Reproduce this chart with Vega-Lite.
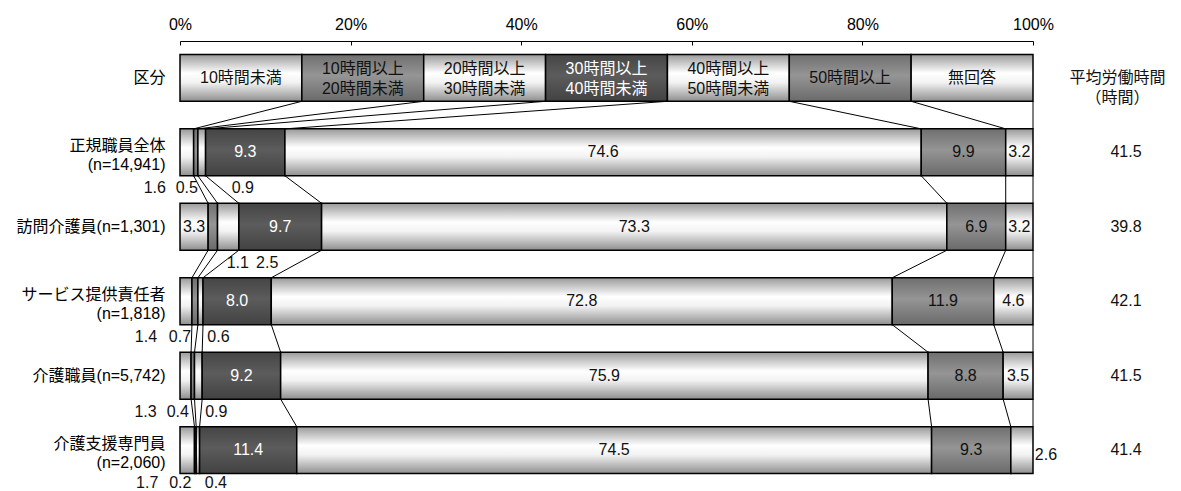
{
  "$schema": "https://vega.github.io/schema/vega-lite/v6.json",
  "width": 853,
  "height": 446,
  "autosize": {"type": "none"},
  "padding": {"left": 180, "top": 41, "right": 148, "bottom": 4},
  "background": "white",
  "config": {"view": {"stroke": null}, "font": "Liberation Sans, Noto Sans CJK JP"},
  "datasets": {
    "bars": [
      {"row": "区分", "r": 0, "s": 1, "seg": "10時間未満", "v": 1},
      {"row": "区分", "r": 0, "s": 2, "seg": "10時間以上\n20時間未満", "v": 1},
      {"row": "区分", "r": 0, "s": 3, "seg": "20時間以上\n30時間未満", "v": 1},
      {"row": "区分", "r": 0, "s": 4, "seg": "30時間以上\n40時間未満", "v": 1},
      {"row": "区分", "r": 0, "s": 5, "seg": "40時間以上\n50時間未満", "v": 1},
      {"row": "区分", "r": 0, "s": 6, "seg": "50時間以上", "v": 1},
      {"row": "区分", "r": 0, "s": 7, "seg": "無回答", "v": 1},
      {"row": "正規職員全体\n(n=14,941)", "r": 1, "s": 1, "seg": "10時間未満", "v": 1.6},
      {"row": "正規職員全体\n(n=14,941)", "r": 1, "s": 2, "seg": "10時間以上\n20時間未満", "v": 0.5},
      {"row": "正規職員全体\n(n=14,941)", "r": 1, "s": 3, "seg": "20時間以上\n30時間未満", "v": 0.9},
      {"row": "正規職員全体\n(n=14,941)", "r": 1, "s": 4, "seg": "30時間以上\n40時間未満", "v": 9.3},
      {"row": "正規職員全体\n(n=14,941)", "r": 1, "s": 5, "seg": "40時間以上\n50時間未満", "v": 74.6},
      {"row": "正規職員全体\n(n=14,941)", "r": 1, "s": 6, "seg": "50時間以上", "v": 9.9},
      {"row": "正規職員全体\n(n=14,941)", "r": 1, "s": 7, "seg": "無回答", "v": 3.2},
      {"row": "訪問介護員(n=1,301)", "r": 2, "s": 1, "seg": "10時間未満", "v": 3.3},
      {"row": "訪問介護員(n=1,301)", "r": 2, "s": 2, "seg": "10時間以上\n20時間未満", "v": 1.1},
      {"row": "訪問介護員(n=1,301)", "r": 2, "s": 3, "seg": "20時間以上\n30時間未満", "v": 2.5},
      {"row": "訪問介護員(n=1,301)", "r": 2, "s": 4, "seg": "30時間以上\n40時間未満", "v": 9.7},
      {"row": "訪問介護員(n=1,301)", "r": 2, "s": 5, "seg": "40時間以上\n50時間未満", "v": 73.3},
      {"row": "訪問介護員(n=1,301)", "r": 2, "s": 6, "seg": "50時間以上", "v": 6.9},
      {"row": "訪問介護員(n=1,301)", "r": 2, "s": 7, "seg": "無回答", "v": 3.2},
      {"row": "サービス提供責任者\n(n=1,818)", "r": 3, "s": 1, "seg": "10時間未満", "v": 1.4},
      {"row": "サービス提供責任者\n(n=1,818)", "r": 3, "s": 2, "seg": "10時間以上\n20時間未満", "v": 0.7},
      {"row": "サービス提供責任者\n(n=1,818)", "r": 3, "s": 3, "seg": "20時間以上\n30時間未満", "v": 0.6},
      {"row": "サービス提供責任者\n(n=1,818)", "r": 3, "s": 4, "seg": "30時間以上\n40時間未満", "v": 8.0},
      {"row": "サービス提供責任者\n(n=1,818)", "r": 3, "s": 5, "seg": "40時間以上\n50時間未満", "v": 72.8},
      {"row": "サービス提供責任者\n(n=1,818)", "r": 3, "s": 6, "seg": "50時間以上", "v": 11.9},
      {"row": "サービス提供責任者\n(n=1,818)", "r": 3, "s": 7, "seg": "無回答", "v": 4.6},
      {"row": "介護職員(n=5,742)", "r": 4, "s": 1, "seg": "10時間未満", "v": 1.3},
      {"row": "介護職員(n=5,742)", "r": 4, "s": 2, "seg": "10時間以上\n20時間未満", "v": 0.4},
      {"row": "介護職員(n=5,742)", "r": 4, "s": 3, "seg": "20時間以上\n30時間未満", "v": 0.9},
      {"row": "介護職員(n=5,742)", "r": 4, "s": 4, "seg": "30時間以上\n40時間未満", "v": 9.2},
      {"row": "介護職員(n=5,742)", "r": 4, "s": 5, "seg": "40時間以上\n50時間未満", "v": 75.9},
      {"row": "介護職員(n=5,742)", "r": 4, "s": 6, "seg": "50時間以上", "v": 8.8},
      {"row": "介護職員(n=5,742)", "r": 4, "s": 7, "seg": "無回答", "v": 3.5},
      {"row": "介護支援専門員\n(n=2,060)", "r": 5, "s": 1, "seg": "10時間未満", "v": 1.7},
      {"row": "介護支援専門員\n(n=2,060)", "r": 5, "s": 2, "seg": "10時間以上\n20時間未満", "v": 0.2},
      {"row": "介護支援専門員\n(n=2,060)", "r": 5, "s": 3, "seg": "20時間以上\n30時間未満", "v": 0.4},
      {"row": "介護支援専門員\n(n=2,060)", "r": 5, "s": 4, "seg": "30時間以上\n40時間未満", "v": 11.4},
      {"row": "介護支援専門員\n(n=2,060)", "r": 5, "s": 5, "seg": "40時間以上\n50時間未満", "v": 74.5},
      {"row": "介護支援専門員\n(n=2,060)", "r": 5, "s": 6, "seg": "50時間以上", "v": 9.3},
      {"row": "介護支援専門員\n(n=2,060)", "r": 5, "s": 7, "seg": "無回答", "v": 2.6}
    ],
    "avg": [
      {"row": "正規職員全体\n(n=14,941)", "avg": 41.5},
      {"row": "訪問介護員(n=1,301)", "avg": 39.8},
      {"row": "サービス提供責任者\n(n=1,818)", "avg": 42.1},
      {"row": "介護職員(n=5,742)", "avg": 41.5},
      {"row": "介護支援専門員\n(n=2,060)", "avg": 41.4}
    ]
  },
  "layer": [
    {
      "data": {"name": "bars"},
      "transform": [
        {"stack": "v", "groupby": ["row"], "sort": [{"field": "s", "order": "ascending"}], "offset": "normalize", "as": ["x0", "x1"]}
      ],
      "mark": {"type": "bar", "stroke": "#000", "strokeWidth": 1.5},
      "encoding": {
        "y": {
          "field": "row", "type": "nominal",
          "scale": {
            "domain": ["区分", "正規職員全体\n(n=14,941)", "訪問介護員(n=1,301)", "サービス提供責任者\n(n=1,818)", "介護職員(n=5,742)", "介護支援専門員\n(n=2,060)"],
            "paddingInner": 0.37, "paddingOuter": 0.18
          },
          "axis": {
            "title": null, "domain": false, "ticks": false, "labelPadding": 15,
            "labelFontSize": 16, "labelColor": "#000", "labelLimit": 0,
            "labelExpr": "split(datum.label, '\\n')", "labelLineHeight": 19,
            "labelOffset": {"condition": {"test": "indexof(datum.value, '\\n') >= 0", "value": -6}, "value": 0}
          }
        },
        "x": {
          "field": "x0", "type": "quantitative",
          "scale": {"domain": [0, 1], "nice": false},
          "axis": {
            "orient": "top", "values": [0, 0.2, 0.4, 0.6, 0.8, 1], "format": ".0%",
            "title": null, "grid": false, "tickSize": -4, "labelPadding": 13,
            "labelFontSize": 16, "labelColor": "#000", "domainColor": "#000",
            "tickColor": "#000", "labelFlush": false
          }
        },
        "x2": {"field": "x1"},
        "fill": {
          "condition": [
            {"test": "datum.s == 4", "value": {"gradient": "linear", "x1": 0, "y1": 0, "x2": 0, "y2": 1, "stops": [{"offset": 0, "color": "#454545"}, {"offset": 0.45, "color": "#5c5c5c"}, {"offset": 1, "color": "#424242"}]}},
            {"test": "datum.s == 2 || datum.s == 6", "value": {"gradient": "linear", "x1": 0, "y1": 0, "x2": 0, "y2": 1, "stops": [{"offset": 0, "color": "#6f6f6f"}, {"offset": 0.45, "color": "#959595"}, {"offset": 1, "color": "#6a6a6a"}]}}
          ],
          "value": {"gradient": "linear", "x1": 0, "y1": 0, "x2": 0, "y2": 1, "stops": [{"offset": 0, "color": "#9a9a9a"}, {"offset": 0.4, "color": "#ffffff"}, {"offset": 0.6, "color": "#f2f2f2"}, {"offset": 1, "color": "#8f8f8f"}]}
        }
      }
    },
    {
      "data": {"name": "bars"},
      "transform": [
        {"stack": "v", "groupby": ["row"], "sort": [{"field": "s", "order": "ascending"}], "offset": "normalize", "as": ["x0", "x1"]},
        {"window": [{"op": "lead", "field": "x1", "as": "nx"}, {"op": "lead", "field": "row", "as": "nrow"}], "groupby": ["s"], "sort": [{"field": "r", "order": "ascending"}]},
        {"filter": "datum.nrow != null"}
      ],
      "mark": {"type": "rule", "color": "#000", "strokeWidth": 1},
      "encoding": {
        "x": {"field": "x1", "type": "quantitative"},
        "x2": {"field": "nx"},
        "y": {"field": "row", "type": "nominal", "bandPosition": 1},
        "y2": {"field": "nrow", "bandPosition": 0}
      }
    },
    {
      "data": {"name": "bars"},
      "transform": [
        {"stack": "v", "groupby": ["row"], "sort": [{"field": "s", "order": "ascending"}], "offset": "normalize", "as": ["x0", "x1"]},
        {"calculate": "(datum.x0 + datum.x1) / 2", "as": "mid"},
        {"filter": "datum.r == 0"}
      ],
      "mark": {
        "type": "text", "fontSize": 16, "lineBreak": "\n", "lineHeight": 20,
        "dy": {"expr": "indexof(datum.seg, '\\n') >= 0 ? -9 : 0"}
      },
      "encoding": {
        "x": {"field": "mid", "type": "quantitative"},
        "y": {"field": "row", "type": "nominal"},
        "text": {"field": "seg"},
        "color": {"condition": {"test": "datum.s == 4", "value": "#ffffff"}, "value": "#111"}
      }
    },
    {
      "data": {"name": "bars"},
      "transform": [
        {"stack": "v", "groupby": ["row"], "sort": [{"field": "s", "order": "ascending"}], "offset": "normalize", "as": ["x0", "x1"]},
        {"calculate": "(datum.x0 + datum.x1) / 2", "as": "mid"},
        {"filter": "datum.r > 0 && datum.v >= 3"}
      ],
      "mark": {"type": "text", "fontSize": 16},
      "encoding": {
        "x": {"field": "mid", "type": "quantitative"},
        "y": {"field": "row", "type": "nominal"},
        "text": {"field": "v", "type": "quantitative", "format": ".1f"},
        "color": {"condition": {"test": "datum.s == 4", "value": "#ffffff"}, "value": "#111"}
      }
    },
    {
      "data": {"name": "bars"},
      "transform": [
        {"stack": "v", "groupby": ["row"], "sort": [{"field": "s", "order": "ascending"}], "offset": "normalize", "as": ["x0", "x1"]},
        {"calculate": "(datum.x0 + datum.x1) / 2", "as": "mid"},
        {"filter": "datum.r > 0 && datum.v < 3 && datum.s <= 3"}
      ],
      "mark": {
        "type": "text", "fontSize": 16, "color": "#111",
        "dy": {"expr": "datum.r == 5 ? 33 : 36"},
        "dx": {"expr": "datum.s == 1 ? (datum.r == 1 ? -32 : -40) : datum.s == 2 ? (datum.r == 1 ? -9 : datum.r == 2 ? 25 : -15) : (datum.r == 1 ? 41 : datum.r == 2 ? 39 : 18)"}
      },
      "encoding": {
        "x": {"field": "mid", "type": "quantitative"},
        "y": {"field": "row", "type": "nominal"},
        "text": {"field": "v", "type": "quantitative", "format": ".1f"}
      }
    },
    {
      "data": {"name": "bars"},
      "transform": [
        {"stack": "v", "groupby": ["row"], "sort": [{"field": "s", "order": "ascending"}], "offset": "normalize", "as": ["x0", "x1"]},
        {"calculate": "(datum.x0 + datum.x1) / 2", "as": "mid"},
        {"filter": "datum.r > 0 && datum.v < 3 && datum.s == 7"}
      ],
      "mark": {"type": "text", "fontSize": 16, "dx": 24, "dy": 5, "color": "#111"},
      "encoding": {
        "x": {"field": "mid", "type": "quantitative"},
        "y": {"field": "row", "type": "nominal"},
        "text": {"field": "v", "type": "quantitative", "format": ".1f"}
      }
    },
    {
      "data": {"name": "avg"},
      "mark": {"type": "text", "fontSize": 16, "color": "#111"},
      "encoding": {
        "x": {"datum": 1.109},
        "y": {"field": "row", "type": "nominal"},
        "text": {"field": "avg", "type": "quantitative", "format": ".1f"}
      }
    },
    {
      "data": {"values": [{"t": "平均労働時間\n（時間）"}]},
      "mark": {"type": "text", "fontSize": 16, "color": "#111", "lineBreak": "\n", "lineHeight": 20, "dy": 0},
      "encoding": {
        "x": {"datum": 1.099},
        "y": {"datum": "区分"},
        "text": {"field": "t"}
      }
    }
  ]
}
